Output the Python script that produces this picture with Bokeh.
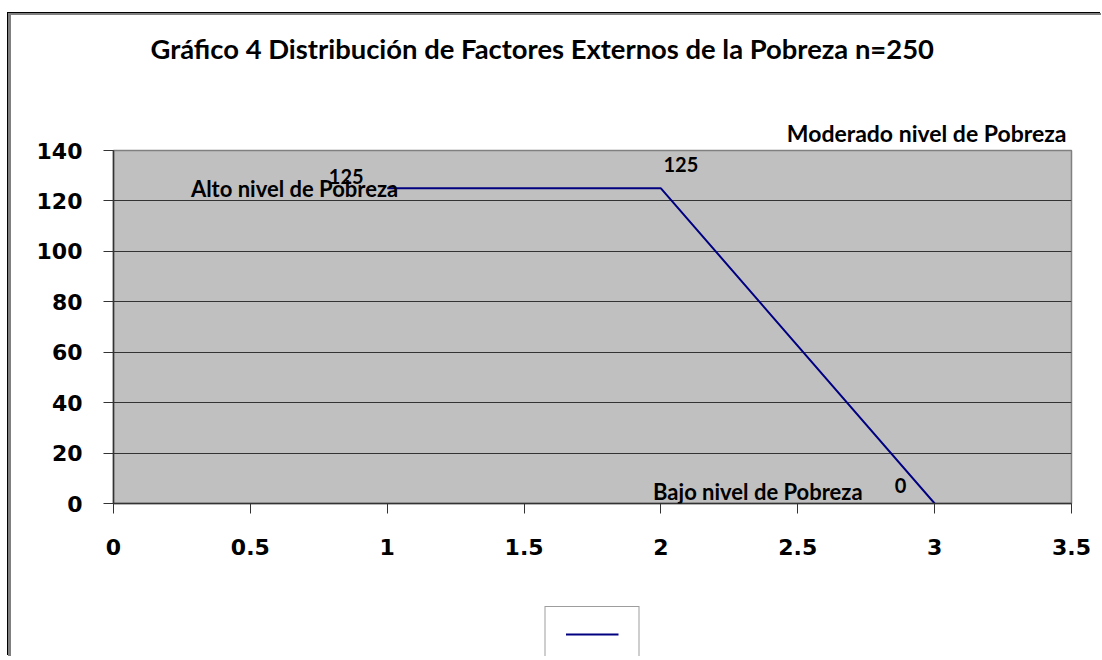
from bokeh.plotting import figure
from bokeh.layouts import column
from bokeh.models import (Label, LabelSet, ColumnDataSource, Legend, LegendItem,
                          Range1d, FixedTicker, Title)
from bokeh.core.properties import value
from bokeh.embed import file_html
from bokeh.resources import INLINE

# ---- data ----
x_vals = [1, 2, 3]
y_vals = [125, 125, 0]
point_labels = ["125", "125", "0"]
x_ticks = [0, 0.5, 1, 1.5, 2, 2.5, 3, 3.5]
y_ticks = [0, 20, 40, 60, 80, 100, 120, 140]
title_text = "Gráfico 4 Distribución de Factores Externos de la Pobreza n=250"
alto_text = "Alto nivel de Pobreza"
moderado_text = "Moderado nivel de Pobreza"
bajo_text = "Bajo nivel de Pobreza"

# ---- styles ----
LINE_COLOR = "#000080"
BG = "#C0C0C0"
DARK = "#333333"
TXT_FONT = "Lato"
TICK_FONT = "DejaVu Sans"

W, H = 1090, 591
p = figure(width=W, height=H, output_backend="svg", toolbar_location=None,
           title=None,
           x_range=Range1d(0, 3.5), y_range=Range1d(0, 140),
           min_border_left=102, min_border_right=30,
           min_border_top=135, min_border_bottom=103)

p.background_fill_color = BG
p.border_fill_color = "white"
p.outline_line_color = "#808080"
p.outline_line_width = 1.5

p.xgrid.grid_line_color = None
p.ygrid.grid_line_color = DARK
p.ygrid.grid_line_width = 1.2

p.xaxis.ticker = FixedTicker(ticks=x_ticks)
p.yaxis.ticker = FixedTicker(ticks=y_ticks)
p.xaxis.major_label_overrides = {t: f"{t:g}" for t in x_ticks}
for ax in (p.xaxis, p.yaxis):
    ax.axis_line_color = DARK
    ax.axis_line_width = 1.5
    ax.major_tick_line_color = DARK
    ax.major_tick_in = 0
    ax.major_tick_out = 10
    ax.minor_tick_line_color = None
    ax.major_label_text_font = TICK_FONT
    ax.major_label_text_font_style = "bold"
    ax.major_label_text_font_size = "22px"
    ax.major_label_text_color = "black"
p.yaxis.major_label_standoff = 21
p.xaxis.major_label_standoff = 25

r = p.line(x_vals, y_vals, line_color=LINE_COLOR, line_width=2)

# data labels
src = ColumnDataSource(dict(x=x_vals, y=y_vals, t=point_labels,
                            dx=[-41, 20, -34], dy=[12, 24, 18]))
p.add_layout(LabelSet(x="x", y="y", text="t", source=src, x_offset="dx", y_offset="dy",
                      text_align="center", text_baseline="middle",
                      text_font=value(TXT_FONT), text_font_style="bold",
                      text_font_size="20px", text_color="black"))

lab_kw = dict(text_font=TXT_FONT, text_font_style="bold", text_color="black",
              text_baseline="middle")
p.add_layout(Label(x=x_vals[0], y=y_vals[0], text=alto_text, x_offset=11, y_offset=0,
                   text_align="right", text_font_size="22px", **lab_kw))
p.add_layout(Label(x=x_vals[2], y=y_vals[2], text=bajo_text, x_offset=-72, y_offset=12,
                   text_align="right", text_font_size="22px", **lab_kw))

# titles (first added = closest to the frame)
p.add_layout(Title(text=moderado_text, align="right", offset=5, text_font=TXT_FONT,
                   text_font_style="bold", text_font_size="23px", text_color="black",
                   standoff=8), "above")
p.add_layout(Title(text=" ", text_font_size="1px", standoff=30), "above")
p.add_layout(Title(text=title_text, align="left", offset=37, text_font=TXT_FONT,
                   text_font_style="bold", text_font_size="27.4px", text_color="black",
                   standoff=29), "above")

# legend strip below the chart (hidden copy of the series feeds the legend glyph)
p2 = figure(width=W, height=50, output_backend="svg", toolbar_location=None,
            x_range=Range1d(10, 11), y_range=Range1d(1000, 1001),
            x_axis_location=None, y_axis_location=None,
            min_border_left=102, min_border_right=30, min_border_top=0, min_border_bottom=0)
p2.grid.grid_line_color = None
p2.outline_line_color = None
p2.background_fill_color = "white"
p2.border_fill_color = "white"
r2 = p2.line(x_vals, y_vals, line_color=LINE_COLOR, line_width=2)
legend = Legend(items=[LegendItem(label=" ", renderers=[r2])], location="top_center",
                padding=20, spacing=0, margin=0,
                glyph_width=53, glyph_height=14, label_width=0, label_height=0,
                label_standoff=0, label_text_font_size="1px",
                border_line_color="#3c3c3c", border_line_width=1.5,
                background_fill_color="white", background_fill_alpha=1)
p2.add_layout(legend)

page = column(p, p2, spacing=0,
              styles={"margin-left": "8px", "margin-top": "13px",
                      "border-left": "3px solid #808080", "border-top": "2px solid #808080",
                      "box-shadow": "-1px -1px 0 0 black"})

open("out.html", "w").write(file_html(page, INLINE))
